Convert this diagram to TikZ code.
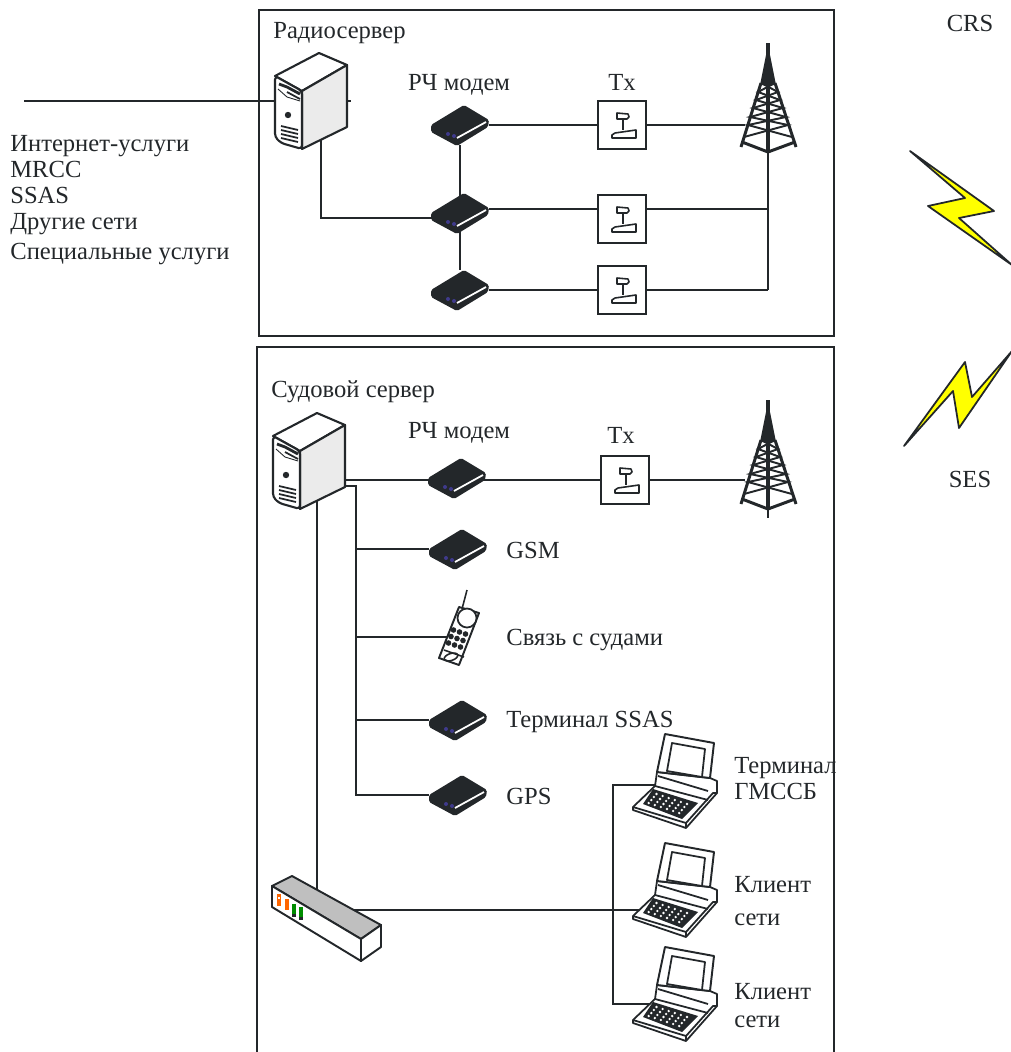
\documentclass[tikz,border=0pt]{standalone}
\usepackage{fontspec}
\setmainfont{Liberation Serif}
\definecolor{ink}{HTML}{23272A}
\definecolor{bolt}{HTML}{FFFF00}
\definecolor{led}{HTML}{3F3A8C}
\tikzset{
  wire/.style={draw=ink,line width=0.95pt},
  caption/.style={text=ink,font=\fontsize{14}{16}\selectfont,text height=1.5ex,text depth=.25ex,yshift=-0.05cm},
  leftcaption/.style={caption,anchor=west},
  frame/.style={draw=ink,line width=0.9pt},
  modemnode/.style={minimum width=1.16cm,minimum height=0.8cm},
  servernode/.style={minimum width=1.44cm,minimum height=1.92cm},
  towernode/.style={minimum width=0.92cm,minimum height=1.44cm},
  laptopnode/.style={minimum width=1.68cm,minimum height=1.9cm},
  txnode/.style={draw=ink,line width=0.9pt,fill=white,minimum size=0.95cm},
  boltshape/.style={draw=ink,fill=bolt,line width=1pt,line join=round},
  modem/.pic={
    \fill [ink,rounded corners=1pt] (-29,0) -- (4,-20) -- (29,-5) -- (28,2) -- (-3,21) -- (-29,7) -- cycle;
    \draw [white,line width=1pt] (-3,13) -- (26,-3);
    \fill [led] (-12,9) circle (2);
    \fill [led] (-6,11) circle (2);
  },
  server/.pic={
    \draw [ink,fill=white,line width=1.2pt,line join=round] (-36,-25) -- (8,-48) -- (36,-36) -- (-9,-10) -- cycle;
    \draw [ink,fill=black!8,line width=1.2pt,line join=round] (-9,-10) -- (36,-36) -- (36,26) -- (-9,48) -- cycle;
    \draw [ink,fill=white,line width=1.2pt,line join=round,rounded corners=2pt] (-36,-25) -- (-9,-10) -- (-9,48) -- (-30,42) -- (-36,36) -- cycle;
    \draw [ink,line width=1.6pt] (-32,-17) -- (-24,-14) -- (-11,-7);
    \draw [ink,line width=1pt] (-24,-9) -- (-11,-2);
    \draw [ink,line width=0.5pt] (-33,-12) -- (-24,-4) -- (-11,0);
    \fill [ink] (-23,14) circle (3.2);
    \foreach \k in {0,...,3}
      \draw [ink,line width=1pt] (-30,{25+4*\k}) -- (-13,{29+4*\k});
  },
  mic/.pic={
    \draw [ink,line width=0.9pt,line join=round] (-5,-12) -- (6,-11) -- (7,-8) -- (5,-6) -- (-5,-6) -- cycle;
    \draw [ink,line width=0.9pt] (1,-6) -- (1,5);
    \draw [ink,line width=0.9pt,line join=round] (-10,10) -- (-7,8) -- (14,5) -- (14,13) -- (-10,13) -- cycle;
  },
  tower/.pic={
    \draw [ink,line width=2pt] (0,-82) -- (0,-50);
    \fill [ink] (-2,-70) -- (2,-70) -- (8,-40) -- (-8,-40) -- cycle;
    \draw [ink,line width=1.7pt,line join=round] (-7,-42) -- (-27,22);
    \draw [ink,line width=1.7pt,line join=round] (7,-42) -- (28,22);
    \draw [ink,line width=2.2pt] (0,-45) -- (0,25);
    \draw [ink,line width=1.1pt] (-7,-42) -- (10,-33) -- (-12,-25) -- (15,-17) -- (-18,-8) -- (20,0) -- (-24,12);
    \draw [ink,line width=1.1pt] (7,-42) -- (-10,-33) -- (12,-25) -- (-15,-17) -- (18,-8) -- (-20,0) -- (24,12);
    \draw [ink,line width=1.7pt] (-26,17) -- (0,27) -- (27,17);
  },
  laptop/.pic={
    \draw [ink,fill=white,line width=1pt,line join=round] (30,-7) -- (37,-4) -- (37,8) -- (6,43) -- (-47,25) -- (-47,22) -- (-25,1) -- (-23,-13) -- cycle;
    \draw [ink,line width=1pt] (-47,22) -- (6,38) -- (6,43);
    \draw [ink,line width=1pt] (6,38) -- (33,8) -- (37,8);
    \draw [ink,line width=1pt] (-25,1) -- (28,15);
    \draw [ink,line width=1pt] (-22,-9) -- (28,6);
    \draw [ink,fill=white,line width=1.1pt,line join=round] (-15,-51) -- (34,-42) -- (30,-7) -- (-23,-13) -- cycle;
    \draw [ink,fill=white,line width=1pt,line join=round] (-8,-42) -- (25,-36) -- (22,-8) -- (-13,-14) -- cycle;
    \fill [ink] (-27,4) -- (18,18) -- (2,34) -- (-37,19) -- cycle;
    \foreach \i in {1,...,6}
      \foreach \j in {1,2,3,4}
        \fill [white] ({-27+6.1*\i-2.6*\j},{4+2.0*\i+3*\j}) circle (1.3);
  },
  phone/.pic={
    \draw [ink,line width=0.9pt] (3,-28) -- (8,-47);
    \draw [ink,fill=white,line width=1.1pt,line join=round] (0,-30) -- (20,-24) -- (0,28) -- (-20,21) -- cycle;
    \draw [ink,fill=white,line width=1pt] (8,-19) circle (9.5);
    \foreach \i in {0,1,2}
      \foreach \j in {0,1,2}
        \fill [ink] ({-5.5+6*\i-2.5*\j},{-7+2*\i+6.5*\j}) circle (2.8);
    \draw [ink,line width=0.9pt] (-15,13) -- (5,20);
    \draw [ink,line width=0.9pt,rotate around={18:(-8,20)}] (-8,20) ellipse (7 and 3.5);
  },
  switchbox/.pic={
    \draw [ink,fill=black!25,line width=1.1pt,line join=round] (-54,-32) -- (-34,-42) -- (55,7) -- (35,21) -- cycle;
    \draw [ink,fill=white,line width=1.1pt,line join=round] (-54,-32) -- (35,21) -- (35,43) -- (-54,-11) -- cycle;
    \draw [ink,fill=white,line width=1.1pt,line join=round] (35,21) -- (55,7) -- (55,29) -- (35,43) -- cycle;
    \draw [orange!80!red,line width=2.2pt] (-47,-24) -- (-47,-12);
    \draw [white,line width=0.8pt] (-47,-21) -- (-47,-19);
    \draw [orange!80!red,line width=2.2pt] (-39,-19) -- (-39,-8);
    \draw [green!55!black,line width=2.2pt] (-32,-14) -- (-32,-4);
    \draw [ink,line width=2.2pt] (-32,-4) -- (-32,-1);
    \draw [green!55!black,line width=2.2pt] (-25,-11) -- (-25,-1);
    \draw [ink,line width=2.2pt] (-25,-1) -- (-25,2);
  }
}
\begin{document}
\begin{tikzpicture}[x=0.02cm,y=-0.02cm]
\tikzstyle{every node}+=[inner sep=0pt]
\useasboundingbox (0,0) rectangle (1011,1052);
\draw [frame] (259,10) rectangle (834,336);
\draw [frame] (257,1052) -- (257,347) -- (834,347) -- (834,1052);

\node (serverA) [servernode] at (311,101) {};
\node (modemA) [modemnode] at (460,125) {};
\node (modemB) [modemnode] at (460,213) {};
\node (modemC) [modemnode] at (460,290) {};
\node (txA) [txnode] at (622,125) {};
\node (txB) [txnode] at (622,219) {};
\node (txC) [txnode] at (622,290) {};
\node (towerA) [towernode] at (768,125) {};
\coordinate (netIn) at (24,101);
\coordinate (netOut) at (351,101);
\coordinate (cornerA) at (321,218);

\node (serverB) [servernode] at (309,461) {};
\node (modemD) [modemnode] at (457,478) {};
\node (gsm) [modemnode] at (458,549) {};
\node (phoneA) [modemnode] at (459,637) {};
\node (ssas) [modemnode] at (458,720) {};
\node (gps) [modemnode] at (458,795) {};
\node (txD) [txnode] at (625,480) {};
\node (towerB) [towernode] at (768,482) {};
\node (switchA) [minimum width=2.2cm,minimum height=1.72cm] at (326,918) {};
\node (lapA) [laptopnode] at (680,785) {};
\node (lapB) [laptopnode] at (680,894) {};
\node (lapC) [laptopnode] at (680,998) {};
\coordinate (busTop) at (356,486);
\coordinate (busBot) at (356,795);
\coordinate (trunk) at (317,890);
\coordinate (hubA) at (613,785);
\coordinate (hubB) at (613,910);
\coordinate (hubC) at (613,1004);

\draw [wire] (netIn) -- (serverA);
\draw [wire] (serverA) -- (netOut);
\draw [wire] (serverA -| cornerA) -- (cornerA) -- (cornerA -| modemB);
\draw [wire] (modemA) -- (modemC);
\draw [wire] (modemA) -- (txA) -- (towerA);
\draw [wire] (modemC) -- (txC) -- (towerA.south |- txC);
\draw [wire] (modemB.east) ++(0,-4) coordinate (tapB) -- (tapB -| txB.west);
\draw [wire] (tapB -| txB.east) -- (tapB -| towerA.south);
\draw [wire] (towerA.center) -- (towerA.south |- txC);

\draw [wire] (serverB |- busTop) -- (busTop) -- (busBot) -- (gps);
\draw [wire] (serverB |- txD) -- (txD);
\draw [wire] (txD) -- (txD -| towerB.west);
\draw [wire] (towerB.center) -- (towerB.south);
\draw [wire] (gsm -| busTop) -- (gsm);
\draw [wire] (phoneA -| busTop) -- (phoneA.center);
\draw [wire] (ssas -| busTop) -- (ssas);
\draw [wire] (serverB -| trunk) -- (trunk |- switchA);
\draw [wire] (switchA |- hubB) -- (hubB) -- (lapB |- hubB);
\draw [wire] (lapA.center) -- (hubA) -- (hubC) -- (lapC |- hubC);

\pic at (serverA) {server};
\pic at (modemA) {modem};
\pic at (modemB) {modem};
\pic at (modemC) {modem};
\pic at (txA) {mic};
\pic at (txB) {mic};
\pic at (txC) {mic};
\pic at (towerA) {tower};
\pic at (serverB) {server};
\pic at (modemD) {modem};
\pic at (gsm) {modem};
\pic at (phoneA) {phone};
\pic at (ssas) {modem};
\pic at (gps) {modem};
\pic at (txD) {mic};
\pic at (towerB) {tower};
\pic at (switchA) {switchbox};
\pic at (lapA) {laptop};
\pic at (lapB) {laptop};
\pic at (lapC) {laptop};

\draw [boltshape] (910,151) -- (994,211) -- (959,218) -- (1012,265) -- (928,206) -- (965,198) -- cycle;
\draw [boltshape] (904,446) -- (965,362) -- (972,397) -- (1012,351) -- (959,428) -- (953,391) -- cycle;

\node (titleA) [leftcaption] at (273,31) {Радиосервер};
\node (crs) [caption] at (970,24) {CRS};
\node (modemTextA) [caption] at (459,83) {РЧ модем};
\node (txTextA) [caption] at (622,83) {Tx};
\node (netA) [leftcaption] at (10,144) {Интернет-услуги};
\node (netB) [leftcaption] at (10,170) {MRCC};
\node (netC) [leftcaption] at (10,196) {SSAS};
\node (netD) [leftcaption] at (10,222) {Другие сети};
\node (netE) [leftcaption] at (10,252) {Специальные услуги};
\node (titleB) [leftcaption] at (271,390) {Судовой сервер};
\node (modemTextB) [caption] at (459,431) {РЧ модем};
\node (txTextB) [caption] at (621,436) {Tx};
\node (ses) [caption] at (970,480) {SES};
\node (gsmText) [leftcaption] at (506,551) {GSM};
\node (phoneText) [leftcaption] at (506,638) {Связь с судами};
\node (ssasText) [leftcaption] at (506,720) {Терминал SSAS};
\node (gpsText) [leftcaption] at (506,797) {GPS};
\node (lapTextA) [leftcaption] at (734,766) {Терминал};
\node (lapTextB) [leftcaption] at (734,792) {ГМССБ};
\node (lapTextC) [leftcaption] at (734,885) {Клиент};
\node (lapTextD) [leftcaption] at (734,918) {сети};
\node (lapTextE) [leftcaption] at (734,992) {Клиент};
\node (lapTextF) [leftcaption] at (734,1020) {сети};
\end{tikzpicture}
\end{document}
